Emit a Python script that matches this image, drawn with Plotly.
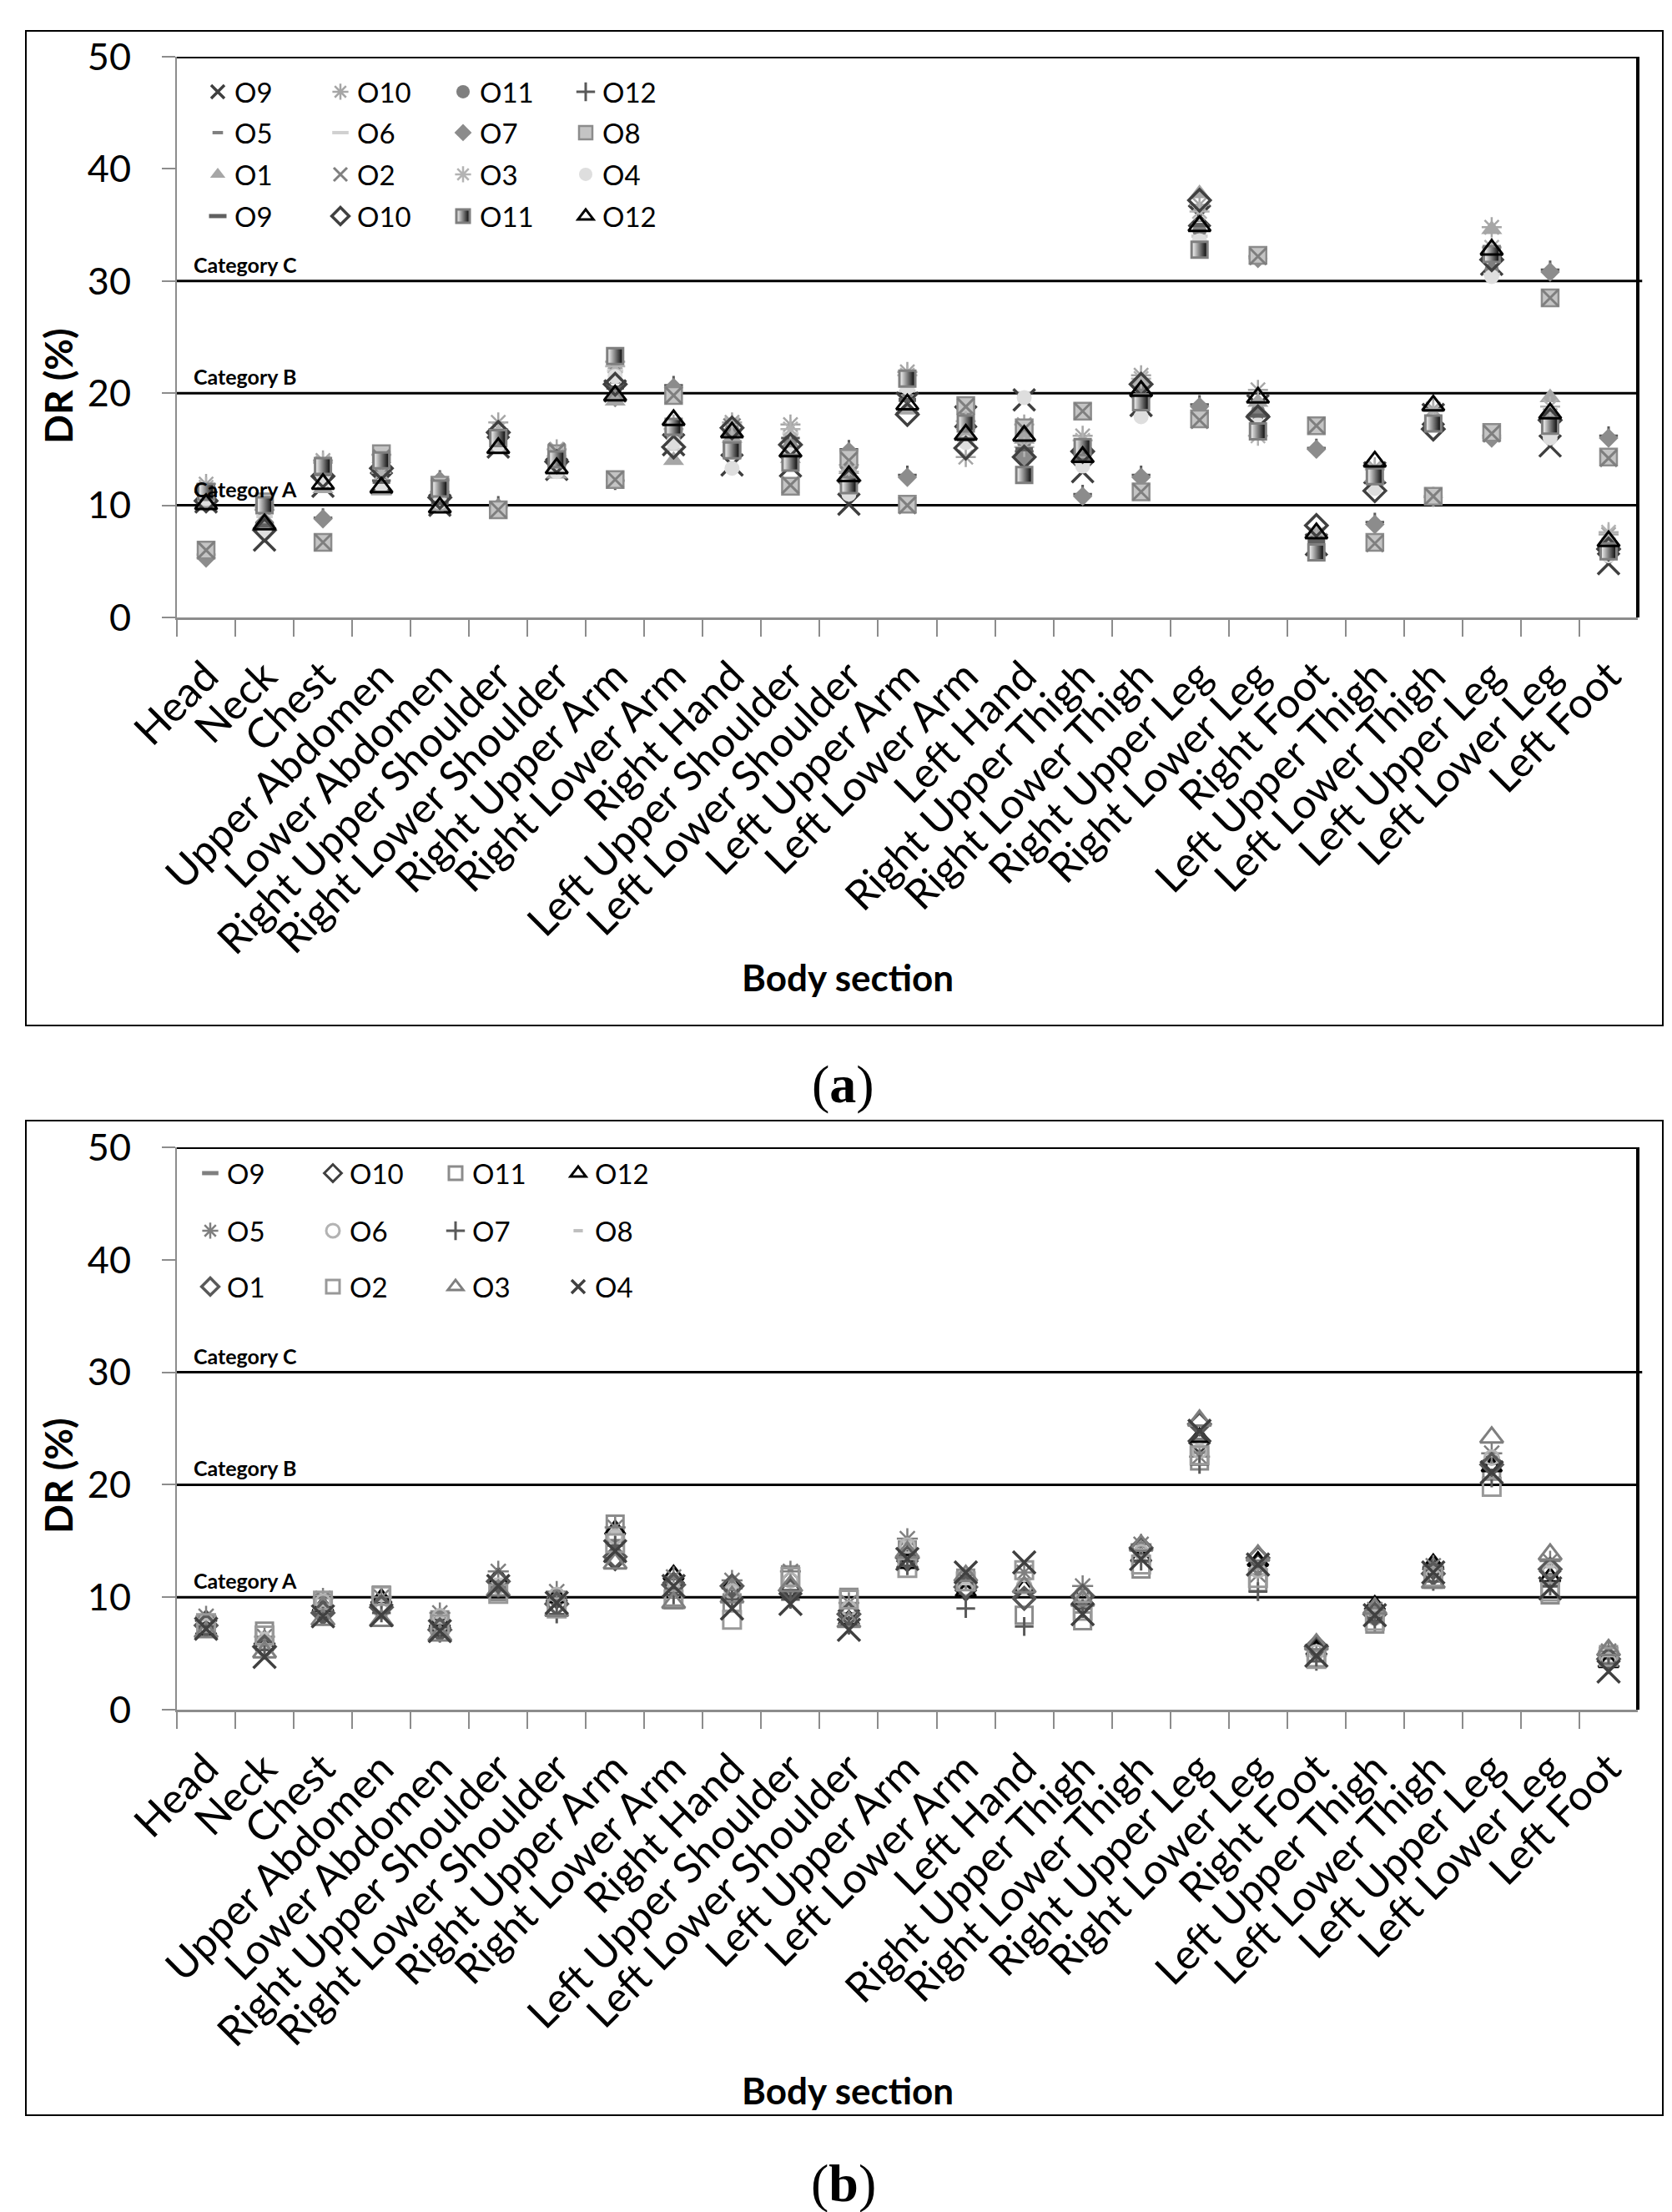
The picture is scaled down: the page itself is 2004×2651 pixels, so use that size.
import plotly.graph_objects as go

W, H = 2004, 2651


def px(x):
    return x / W


def py(y):
    return 1 - y / H


categories = ["Head", "Neck", "Chest", "Upper Abdomen", "Lower Abdomen",
              "Right Upper Shoulder", "Right Lower Shoulder", "Right Upper Arm",
              "Right Lower Arm", "Right Hand", "Left Upper Shoulder",
              "Left Lower Shoulder", "Left Upper Arm", "Left Lower Arm", "Left Hand",
              "Right Upper Thigh", "Right Lower Thigh", "Right Upper Leg",
              "Right Lower Leg", "Right Foot", "Left Upper Thigh", "Left Lower Thigh",
              "Left Upper Leg", "Left Lower Leg", "Left Foot"]

y_ticks = [0, 10, 20, 30, 40, 50]
category_levels = [10, 20, 30]
category_names = ["Category A", "Category B", "Category C"]

# ---------------- panel (a) ----------------
a_O9_x = [10.3, 6.9, 11.7, 12.0, 10.0, 15.2, 13.2, 20.2, 15.4, 13.6, 13.5, 10.1, 19.1,
          17.9, 19.4, 13.0, 18.9, 35.8, 18.9, 6.5, 12.9, 18.1, 31.5, 15.3, 4.8]
a_O10_ast = [11.9, 9.6, 14.0, 14.5, 11.2, 17.4, 15.0, 22.8, 17.2, 17.4, 17.2, 13.6, 21.9,
             14.3, 17.2, 16.2, 21.6, 36.8, 20.3, 7.2, 13.4, 18.6, 34.8, 18.0, 7.4]
a_O11_circle = [11.0, 8.0, 12.9, 13.0, 10.4, 16.2, 14.0, 21.8, 16.0, 16.8, 15.8, 12.4, 20.9,
                16.5, 15.6, 14.5, 20.5, 34.5, 18.4, 6.9, 12.0, 17.4, 31.0, 17.0, 6.2]
a_O12_plus = [5.6, 8.4, 8.9, 12.2, 12.3, 10.0, 13.6, 12.2, 20.7, 16.3, 16.0, 15.0, 12.7,
              17.0, 14.8, 11.0, 12.7, 19.0, 32.2, 15.1, 8.5, 10.8, 16.2, 31.0, 16.2]
a_O5_dash = [10.9, 8.8, 12.5, 12.6, 10.6, 15.5, 13.8, 21.0, 16.3, 15.8, 15.0, 12.9, 19.8,
             16.0, 16.0, 15.0, 20.0, 35.4, 17.8, 7.0, 12.4, 17.6, 31.8, 18.5, 6.5]
a_O6_dash = [11.3, 9.0, 13.0, 13.4, 11.0, 14.9, 12.6, 22.0, 15.0, 14.5, 16.4, 11.5, 20.2,
             15.5, 16.5, 13.8, 19.4, 34.0, 19.0, 6.2, 11.8, 17.0, 30.6, 16.4, 5.8]
a_O7_diamond = [5.3, 7.9, 8.8, 13.8, 12.2, 9.8, 14.3, 19.6, 20.5, 16.6, 15.2, 14.8, 12.5,
                16.8, 14.4, 10.8, 12.5, 18.8, 32.0, 15.0, 8.3, 10.7, 16.0, 30.8, 16.0]
a_O8_square = [6.0, 10.3, 6.7, 14.6, 11.8, 9.6, 14.6, 12.3, 19.8, 15.0, 11.7, 14.2, 10.1,
               18.9, 16.9, 18.4, 11.2, 17.7, 32.3, 17.1, 6.7, 10.8, 16.5, 28.5, 14.3]
a_O1_triangle = [10.2, 8.6, 11.5, 11.3, 9.9, 15.0, 12.8, 19.3, 14.0, 16.0, 14.2, 13.2, 18.5,
                 16.2, 15.9, 14.4, 21.1, 37.8, 19.2, 7.7, 12.5, 17.2, 34.6, 19.6, 7.0]
a_O2_x = [6.0, 9.2, 6.7, 14.2, 11.7, 9.6, 14.8, 12.3, 19.8, 17.0, 11.8, 14.0, 10.0,
          18.8, 16.8, 18.4, 11.2, 17.6, 32.2, 17.1, 6.6, 10.8, 16.4, 28.5, 14.2]
a_O3_ast = [11.6, 9.9, 13.8, 12.9, 10.8, 16.8, 14.4, 22.4, 16.8, 17.2, 16.8, 13.0, 21.6,
            17.5, 15.2, 15.8, 21.3, 36.2, 16.2, 7.4, 13.2, 18.4, 33.0, 18.8, 7.6]
a_O4_circle = [10.6, 7.5, 12.2, 11.8, 10.3, 15.4, 13.0, 21.5, 15.6, 13.3, 14.5, 11.0, 20.5,
               15.6, 19.6, 13.5, 17.9, 33.6, 17.2, 6.0, 11.5, 17.5, 30.4, 16.0, 5.5]
a_O9_dash = [10.8, 8.2, 12.8, 12.1, 10.2, 15.8, 13.5, 20.5, 16.5, 15.4, 14.0, 12.0, 19.4,
             15.9, 15.0, 14.0, 19.7, 35.0, 18.0, 6.8, 12.2, 17.8, 32.0, 17.4, 6.4]
a_O10_diamond = [10.4, 7.8, 12.6, 13.3, 10.7, 16.5, 13.9, 20.8, 15.2, 16.9, 15.4, 12.2, 18.1,
                 15.1, 14.3, 14.8, 20.8, 37.2, 17.9, 8.2, 11.3, 16.8, 31.9, 17.6, 6.1]
a_O11_halfsquare = [11.2, 10.0, 13.5, 14.0, 11.5, 16.0, 14.1, 23.3, 17.0, 14.9, 13.8, 11.8, 21.3,
                    17.3, 12.7, 15.2, 19.2, 32.8, 16.6, 5.8, 12.6, 17.3, 32.4, 17.1, 5.9]
a_O12_triangle = [10.1, 8.3, 11.9, 11.6, 9.8, 15.1, 13.3, 19.8, 17.6, 16.5, 14.8, 12.6, 19.0,
                  16.3, 16.2, 14.3, 20.2, 34.9, 19.6, 7.5, 13.9, 18.9, 32.8, 18.2, 6.8]

# ---------------- panel (b) ----------------
b_O9_dash = [7.6, 5.8, 9.0, 9.5, 7.5, 11.2, 9.6, 15.0, 10.8, 10.2, 10.5, 8.5, 13.8,
             11.0, 10.5, 9.5, 13.8, 24.0, 12.6, 5.0, 8.4, 12.2, 22.3, 12.0, 4.6]
b_O10_diamond = [7.9, 5.5, 8.8, 9.3, 7.3, 11.5, 9.9, 13.3, 11.3, 11.0, 10.8, 8.8, 13.2,
                 10.6, 9.8, 10.0, 14.4, 23.7, 12.9, 5.4, 8.6, 12.5, 22.0, 12.3, 4.4]
b_O11_square = [7.3, 7.0, 9.5, 10.2, 8.0, 10.5, 9.2, 16.5, 10.0, 9.5, 12.0, 10.0, 14.2,
                11.7, 8.4, 7.9, 12.5, 22.1, 11.3, 4.6, 7.6, 11.6, 21.2, 10.2, 4.9]
b_O12_triangle = [7.1, 6.2, 9.2, 9.9, 7.8, 11.8, 10.0, 16.0, 12.0, 11.2, 11.0, 8.0, 13.0,
                  10.5, 10.8, 9.8, 13.6, 24.2, 13.2, 5.3, 9.3, 13.0, 21.6, 11.8, 4.2]
b_O5_ast = [8.3, 6.5, 9.9, 10.0, 8.6, 12.3, 10.5, 16.2, 11.8, 11.5, 12.3, 9.5, 15.2,
            11.5, 12.2, 11.0, 14.7, 22.5, 12.0, 4.8, 8.9, 12.8, 22.8, 13.2, 5.2]
b_O6_circle = [7.8, 6.0, 9.6, 8.8, 8.3, 11.0, 10.2, 15.4, 10.6, 10.5, 11.5, 9.0, 14.6,
               10.8, 11.0, 10.3, 14.0, 23.0, 12.4, 5.1, 8.2, 12.0, 22.4, 12.4, 4.4]
b_O7_plus = [7.4, 5.3, 8.5, 8.6, 6.8, 10.8, 8.5, 14.6, 10.2, 9.8, 9.8, 7.5, 12.8,
             9.0, 7.4, 9.0, 13.2, 21.8, 10.5, 4.3, 7.8, 11.4, 20.6, 11.0, 4.0]
b_O8_dash = [8.0, 6.8, 9.3, 9.7, 8.2, 11.6, 9.8, 15.8, 11.0, 10.8, 11.2, 9.3, 14.9,
             11.2, 11.5, 10.5, 14.2, 23.4, 12.8, 5.0, 8.7, 12.3, 22.6, 12.7, 4.8]
b_O1_diamond = [7.5, 5.6, 8.6, 9.1, 7.1, 11.4, 9.4, 13.6, 11.1, 11.0, 10.6, 8.5, 13.5,
                10.9, 9.9, 10.1, 14.4, 25.4, 13.5, 5.6, 8.5, 12.1, 21.8, 12.5, 4.5]
b_O2_square = [7.7, 6.6, 9.7, 10.1, 7.6, 10.3, 9.0, 14.8, 9.8, 8.0, 11.8, 9.8, 12.6,
               11.4, 12.4, 8.8, 12.9, 22.6, 11.7, 4.5, 7.9, 11.8, 19.8, 10.5, 4.7]
b_O3_triangle = [6.9, 5.1, 8.0, 7.9, 6.6, 10.6, 8.8, 13.0, 9.5, 10.0, 11.0, 7.8, 14.0,
                 11.9, 10.9, 9.7, 14.6, 25.7, 13.7, 5.8, 9.0, 11.3, 24.2, 13.8, 5.3]
b_O4_x = [7.2, 4.7, 8.3, 8.4, 7.0, 11.0, 9.5, 14.1, 11.0, 9.0, 9.4, 7.1, 13.4,
          12.2, 13.1, 8.5, 13.4, 24.8, 12.9, 4.8, 8.4, 12.2, 21.1, 10.8, 3.4]

FONT = "Lato"

fig = go.Figure()


def add(name, vals, xa, ya, legend, marker):
    fig.add_trace(go.Scatter(
        x=categories, y=vals, mode="markers", name=name,
        xaxis=xa, yaxis=ya, legend=legend, marker=marker,
        hoverinfo="name+x+y"))


def mk(symbol, color, size, lw=0, lc=None, **kw):
    d = dict(symbol=symbol, color=color, size=size,
             line=dict(width=lw, color=lc if lc else color))
    d.update(kw)
    return d


# panel (a) series in legend order (4 rows of 4)
a_series = [
    ("O9", a_O9_x, "legend", mk("x-thin", "#3f3f3f", 26, 3.5)),
    ("O10", a_O10_ast, "legend", mk("asterisk", "#a6a6a6", 20, 2.5)),
    ("O11", a_O11_circle, "legend", mk("circle", "#7f7f7f", 17)),
    ("O12", a_O12_plus, "legend", mk("cross-thin", "#595959", 16, 3)),
    ("O5", a_O5_dash, "legend2", mk("line-ew", "#7f7f7f", 9, 4)),
    ("O6", a_O6_dash, "legend2", mk("line-ew", "#d0d0d0", 14, 4)),
    ("O7", a_O7_diamond, "legend2", mk("diamond", "#8c8c8c", 18)),
    ("O8", a_O8_square, "legend2", mk("square", "#c4c4c4", 20, 2.5, "#8c8c8c")),
    ("O1", a_O1_triangle, "legend3", mk("triangle-up", "#a6a6a6", 22)),
    ("O2", a_O2_x, "legend3", mk("x-thin", "#7f7f7f", 20, 3)),
    ("O3", a_O3_ast, "legend3", mk("asterisk", "#b3b3b3", 20, 2.5)),
    ("O4", a_O4_circle, "legend3", mk("circle", "#dedede", 18)),
    ("O9", a_O9_dash, "legend4", mk("line-ew", "#606060", 15, 5)),
    ("O10", a_O10_diamond, "legend4", mk("diamond-open", "#404040", 20, 3.5)),
    ("O11", a_O11_halfsquare, "legend4", mk("square", "white", 19, 3, "#7f7f7f",
                                            gradient=dict(type="horizontal", color="black"))),
    ("O12", a_O12_triangle, "legend4", mk("triangle-up-open", "#000000", 23, 3)),
]

b_series = [
    ("O9", b_O9_dash, "legend5", mk("line-ew", "#7f7f7f", 14, 5)),
    ("O10", b_O10_diamond, "legend5", mk("diamond-open", "#404040", 18, 3)),
    ("O11", b_O11_square, "legend5", mk("square-open", "#8c8c8c", 20, 3)),
    ("O12", b_O12_triangle, "legend5", mk("triangle-up-open", "#000000", 21, 3)),
    ("O5", b_O5_ast, "legend6", mk("asterisk", "#7f7f7f", 21, 2.5)),
    ("O6", b_O6_circle, "legend6", mk("circle-open", "#b3b3b3", 17, 3)),
    ("O7", b_O7_plus, "legend6", mk("cross-thin", "#595959", 16, 3)),
    ("O8", b_O8_dash, "legend6", mk("line-ew", "#bfbfbf", 8, 4)),
    ("O1", b_O1_diamond, "legend7", mk("diamond-open", "#595959", 20, 3.5)),
    ("O2", b_O2_square, "legend7", mk("square-open", "#999999", 21, 3)),
    ("O3", b_O3_triangle, "legend7", mk("triangle-up-open", "#7f7f7f", 24, 3)),
    ("O4", b_O4_x, "legend7", mk("x-thin", "#404040", 27, 3.5)),
]

for name, vals, lg, m in a_series:
    add(name, vals, "x", "y", lg, m)
for name, vals, lg, m in b_series:
    add(name, vals, "x2", "y2", lg, m)

# ---- geometry (pixels) ----
plot_l, plot_r = 204, 1955
a_top, a_bot = 60, 732
b_top, b_bot = 1367, 2041

xdom = [px(plot_l), px(plot_r)]
AX_GRAY = "#8c8c8c"

xaxis_common = dict(
    type="category", categoryorder="array", categoryarray=categories,
    range=[-0.5, len(categories) - 0.5], domain=xdom,
    showline=True, linecolor=AX_GRAY, linewidth=3,
    ticks="outside", tickson="boundaries", ticklen=20, tickwidth=2, tickcolor=AX_GRAY,
    tickangle=-45, tickfont=dict(family=FONT, size=50, color="black"),
    showgrid=False, zeroline=False, automargin=False, fixedrange=True,
    ticklabelstandoff=18,
)
yaxis_common = dict(
    range=[0, 50], tickvals=y_ticks, showline=True, linecolor=AX_GRAY, linewidth=2,
    ticks="outside", ticklen=16, tickwidth=2, tickcolor=AX_GRAY,
    tickfont=dict(family=FONT, size=45, color="black"),
    showgrid=False, zeroline=False, automargin=False, fixedrange=True,
    ticklabelstandoff=28,
)

fig.update_layout(
    width=W, height=H, autosize=False,
    margin=dict(l=0, r=0, t=0, b=0, pad=0),
    paper_bgcolor="white", plot_bgcolor="white",
    font=dict(family=FONT, color="black"),
    xaxis=dict(xaxis_common, anchor="y"),
    yaxis=dict(yaxis_common, anchor="x", domain=[py(a_bot), py(a_top)]),
    xaxis2=dict(xaxis_common, anchor="y2"),
    yaxis2=dict(yaxis_common, anchor="x2", domain=[py(b_bot), py(b_top)]),
)

# legends (one per row)
legend_rows = [("legend", 102, 233), ("legend2", 151, 233), ("legend3", 201, 233),
               ("legend4", 251, 233), ("legend5", 1398, 224), ("legend6", 1467, 224),
               ("legend7", 1534, 224)]
for lname, ly, lx in legend_rows:
    fig.update_layout({lname: dict(
        orientation="h", x=px(lx), y=py(ly), xanchor="left", yanchor="middle",
        bgcolor="rgba(0,0,0,0)", borderwidth=0, entrywidth=102, entrywidthmode="pixels",
        font=dict(family=FONT, size=33, color="black"), itemsizing="trace",
        itemclick=False, itemdoubleclick=False, tracegroupgap=0)})

shapes = []
# outer frames
for top, bot in [(29, 1221), (1335, 2527)]:
    shapes.append(dict(type="rect", xref="paper", yref="paper",
                       x0=px(23), x1=px(1985), y0=py(bot), y1=py(top),
                       line=dict(color="black", width=2), layer="below"))
for xr, yr in [("x domain", "y"), ("x2 domain", "y2")]:
    for lv in category_levels:
        shapes.append(dict(type="line", xref=xr, yref=yr, x0=0, x1=1.003 if lv == 30 else 1,
                           y0=lv, y1=lv, line=dict(color="black", width=3), layer="below"))
    shapes.append(dict(type="line", xref=xr, yref=yr, x0=0, x1=1, y0=50, y1=50,
                       line=dict(color="black", width=4), layer="below"))
    shapes.append(dict(type="line", xref=xr, yref=yr, x0=1, x1=1, y0=0, y1=50,
                       line=dict(color="black", width=4), layer="below"))
fig.update_layout(shapes=shapes)

ann = []
# category labels
for xr, yr in [("paper", "y"), ("paper", "y2")]:
    for lv, txt in zip(category_levels, category_names):
        ann.append(dict(xref=xr, yref=yr, x=px(222), y=lv, yshift=3, text="<b>%s</b>" % txt,
                        showarrow=False, xanchor="left", yanchor="bottom",
                        font=dict(family=FONT, size=25, color="black")))
# axis titles
for ty in [455, 1761]:
    ann.append(dict(xref="paper", yref="paper", x=px(62), y=py(ty), text="<b>DR (%)</b>",
                    textangle=-90, showarrow=False, xanchor="center", yanchor="middle",
                    font=dict(family=FONT, size=46, color="black")))
for ty in [1163, 2497]:
    ann.append(dict(xref="paper", yref="paper", x=px(1008), y=py(ty), text="<b>Body section</b>",
                    showarrow=False, xanchor="center", yanchor="middle",
                    font=dict(family=FONT, size=44, color="black")))
for txt, ty in [("a", 1292), ("b", 2608)]:
    ann.append(dict(xref="paper", yref="paper", x=px(1003), y=py(ty), text="(<b>%s</b>)" % txt,
                    showarrow=False, xanchor="center", yanchor="middle",
                    font=dict(family="Liberation Serif", size=64, color="black")))
fig.update_layout(annotations=ann)

fig.write_html("out.html")
